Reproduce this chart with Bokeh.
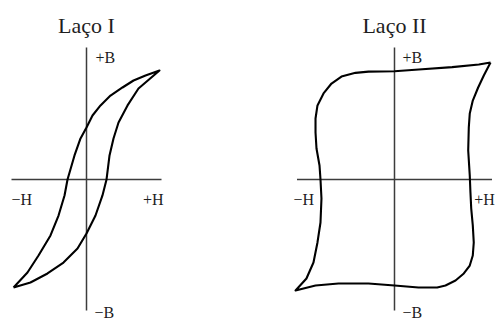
from bokeh.plotting import figure
from bokeh.layouts import row
from bokeh.models import Range1d
from bokeh.core.properties import value
from bokeh.embed import file_html
from bokeh.resources import INLINE

# ---- data (normalised H, B units; axes span -1..1) ----
titles = ["Laço I", "Laço II"]
axis_labels = ["+B", "\u2212H", "+H", "\u2212B"]

# Loop I : ascending branch (from -Bmax tip to +Bmax tip)
loop1_up_H = [-0.973, -0.787, -0.64, -0.48, -0.373, -0.293, -0.253, -0.16, -0.08, 0.0,
              0.08, 0.187, 0.32, 0.48, 0.627, 0.787, 0.973]
loop1_up_B = [-0.818, -0.705, -0.576, -0.424, -0.273, -0.121, 0.0, 0.182, 0.311, 0.394,
              0.485, 0.561, 0.636, 0.697, 0.75, 0.788, 0.826]
# Loop I : descending branch (from +Bmax tip back to -Bmax tip)
loop1_dn_H = [0.973, 0.88, 0.693, 0.547, 0.427, 0.36, 0.307, 0.267, 0.213, 0.12, 0.0,
              -0.12, -0.307, -0.52, -0.747, -0.973]
loop1_dn_B = [0.826, 0.78, 0.689, 0.561, 0.432, 0.311, 0.182, 0.0, -0.121, -0.273, -0.409,
              -0.523, -0.629, -0.712, -0.78, -0.818]

# Loop II : descending branch (from +Bmax tip, left, then down to -Bmax tip)
loop2_dn_H = [0.985, 0.865, 0.592, 0.249, 0.0, -0.267, -0.4, -0.544, -0.646, -0.728,
              -0.79, -0.81, -0.81, -0.8, -0.769, -0.759, -0.749, -0.759, -0.79, -0.831,
              -0.903, -1.015]
loop2_dn_B = [0.886, 0.871, 0.851, 0.833, 0.82, 0.817, 0.808, 0.78, 0.727, 0.652,
              0.561, 0.462, 0.356, 0.235, 0.106, 0.0, -0.144, -0.326, -0.477, -0.629,
              -0.75, -0.841]
# Loop II : ascending branch (from -Bmax tip, right, then up to +Bmax tip)
loop2_up_H = [-1.015, -0.81, -0.574, -0.267, 0.0, 0.246, 0.438, 0.523, 0.626, 0.711,
              0.772, 0.803, 0.813, 0.803, 0.787, 0.779, 0.772, 0.756, 0.762, 0.772,
              0.803, 0.858, 0.916, 0.985]
loop2_up_B = [-0.841, -0.803, -0.788, -0.788, -0.803, -0.818, -0.818, -0.803, -0.765,
              -0.712, -0.652, -0.576, -0.477, -0.348, -0.22, -0.098, 0.03, 0.22, 0.394,
              0.5, 0.598, 0.697, 0.788, 0.886]

FONT = value("Liberation Serif")
TXT = "#1e1e1e"
Y_RANGE = (-1.0758, 1.356)


def panel(x_range, loop_H, loop_B, title, plusB_x, minusH_x, plusH_x, minusB_x, w):
    p = figure(width=w, height=321, x_range=Range1d(*x_range),
               y_range=Range1d(*Y_RANGE), title=None,
               x_axis_location=None, y_axis_location=None,
               output_backend="svg", toolbar_location=None, min_border=0)
    p.grid.visible = False
    p.outline_line_color = None
    p.background_fill_color = "white"
    p.border_fill_color = "white"
    # coordinate axes
    p.line([-1, 1], [0, 0], line_color="#3c3c3c", line_width=1.5)
    p.line([0, 0], [-0.992, 1.0], line_color="#3c3c3c", line_width=1.5)
    # loop
    p.line(loop_H, loop_B, line_color="black", line_width=2.1, line_join="round")
    # title
    p.text(x=[0.0], y=[1.167], text=[title], text_font=FONT, text_font_size="22px",
           text_align="center", text_baseline="alphabetic", text_color=TXT)
    # axis labels
    p.text(x=[plusB_x], y=[0.924], text=[axis_labels[0]], text_font=FONT,
           text_font_size="16px", text_align="left", text_baseline="alphabetic", text_color=TXT)
    p.text(x=[minusH_x], y=[-0.152], text=[axis_labels[1]], text_font=FONT,
           text_font_size="16px", text_align="left", text_baseline="alphabetic", text_color=TXT)
    p.text(x=[plusH_x], y=[-0.152], text=[axis_labels[2]], text_font=FONT,
           text_font_size="16px", text_align="right", text_baseline="alphabetic", text_color=TXT)
    p.text(x=[minusB_x], y=[-1.008], text=[axis_labels[3]], text_font=FONT,
           text_font_size="16px", text_align="left", text_baseline="alphabetic", text_color=TXT)
    return p


p1 = panel((-1.1467, 2.16), loop1_up_H + loop1_dn_H[1:], loop1_up_B + loop1_dn_B[1:],
           titles[0], 0.12, -1.0, 1.027, 0.107, 248)
p2 = panel((-1.4974, 1.0462), loop2_dn_H + loop2_up_H[1:], loop2_dn_B + loop2_up_B[1:],
           titles[1], 0.082, -1.036, 1.03, 0.082, 248)

layout = row(p1, p2, spacing=0)
open("out.html", "w").write(file_html(layout, INLINE))
